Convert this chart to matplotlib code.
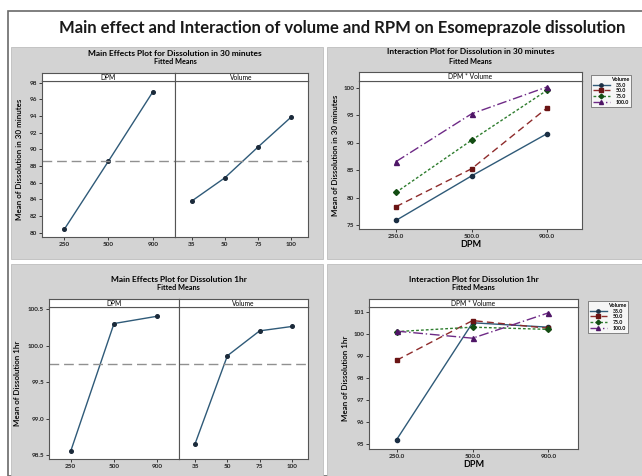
import matplotlib.pyplot as plt
from matplotlib.patches import Rectangle

plt.rcParams['font.family'] = ['Lato', 'DejaVu Sans']

W, H = 642, 476

# main effects, 30 minutes
dpm_levels = ["250", "500", "900"]
vol_levels = ["35", "50", "75", "100"]
me30_dpm = [80.4, 88.6, 96.9]
me30_vol = [83.8, 86.6, 90.3, 93.9]
mean30 = 88.63

# main effects, 1 hr
me1h_dpm = [98.555, 100.30, 100.40]
me1h_vol = [98.66, 99.86, 100.20, 100.26]
mean1h = 99.745

# interaction plots
int_dpm = ["250.0", "500.0", "900.0"]
vol_names = ["35.0", "50.0", "75.0", "100.0"]
int30_35 = [75.9, 84.0, 91.7]
int30_50 = [78.4, 85.3, 96.4]
int30_75 = [81.0, 90.5, 99.6]
int30_100 = [86.6, 95.3, 100.2]
int1h_35 = [95.2, 100.5, 100.3]
int1h_50 = [98.8, 100.6, 100.25]
int1h_75 = [100.1, 100.3, 100.2]
int1h_100 = [100.12, 99.8, 100.95]

ME_LINE = "#2f5a78"
PT = "#1b2a3a"
GREY = "#d3d3d3"
series_colors = ["#2f5a78", "#8e2b2b", "#2e7d2e", "#6e2a86"]
marker_colors = ["#1b2f44", "#6a1414", "#134d13", "#4e1566"]
series_markers = ["o", "s", "D", "^"]
series_ls = ["-", (0, (5, 3)), (0, (2, 1.5)), (0, (7, 2, 1, 2))]


def box(x0, y0, x1, y1):
    return [x0 / W, 1 - y1 / H, (x1 - x0) / W, (y1 - y0) / H]


def style(ax):
    for s in ax.spines.values():
        s.set_color("#555555")
        s.set_linewidth(0.8)
    ax.tick_params(labelsize=4.6, length=2, width=0.6, pad=1.5, colors="#222222")
    for t in ax.get_xticklabels() + ax.get_yticklabels():
        t.set_fontweight("bold")


def strip(fig, x0, x1, y0, y1, text):
    s = fig.add_axes(box(x0, y0, x1, y1))
    s.set_xticks([])
    s.set_yticks([])
    for sp in s.spines.values():
        sp.set_color("#555555")
        sp.set_linewidth(0.8)
    s.text(0.5, 0.45, text, ha="center", va="center", fontsize=4.8, transform=s.transAxes)


fig = plt.figure(figsize=(W / 100, H / 100), dpi=100)
fig.patch.set_facecolor("white")

# outer frame and grey panels (behind the axes)
fig.patches.append(Rectangle((8 / W, 0), 1, 1 - 11 / H, transform=fig.transFigure,
                             facecolor="white", edgecolor="#6a6a6a", lw=1.2, zorder=-3))
for (x0, y0, x1, y1) in [(11, 47, 323, 259), (327, 47, 642, 259),
                         (11, 264, 323, 476), (327, 264, 642, 476)]:
    fig.patches.append(Rectangle((x0 / W, 1 - y1 / H), (x1 - x0) / W, (y1 - y0) / H,
                                 transform=fig.transFigure, facecolor=GREY,
                                 edgecolor="#bdbdbd", lw=0.6, zorder=-2))

fig.text(342 / W, 1 - 28 / H,
         "Main effect and Interaction of volume and RPM on Esomeprazole dissolution",
         ha="center", va="center", fontsize=12, fontweight="bold", color="#1a1a1a")


def main_effects(x0, xm, x1, y0, y1, ys, dpm_vals, vol_vals, mean, ylim, yticks,
                 ylabels, title, ylabel):
    axl = fig.add_axes(box(x0, y0, xm, y1))
    axr = fig.add_axes(box(xm, y0, x1, y1), sharey=axl)
    axl.plot(range(len(dpm_levels)), dpm_vals, color=ME_LINE, lw=1, marker="o",
             ms=2.6, mfc=PT, mec=PT)
    axr.plot(range(len(vol_levels)), vol_vals, color=ME_LINE, lw=1, marker="o",
             ms=2.6, mfc=PT, mec=PT)
    for ax, n, labs in [(axl, 3, dpm_levels), (axr, 4, vol_levels)]:
        ax.axhline(mean, color="#909090", lw=1, ls=(0, (7, 3.5)))
        ax.set_xlim(-0.5, n - 0.5)
        ax.set_xticks(range(n))
        ax.set_xticklabels(labs)
    axl.set_ylim(*ylim)
    axl.set_yticks(yticks)
    axl.set_yticklabels(ylabels)
    axr.tick_params(axis="y", left=False, labelleft=False)
    style(axl)
    style(axr)
    axl.set_ylabel(ylabel, fontsize=5.8, labelpad=5, fontweight="semibold")
    strip(fig, x0, xm, ys, y0, "DPM")
    strip(fig, xm, x1, ys, y0, "Volume")
    cx = (x0 + x1) / 2
    fig.text(cx / W, 1 - (ys - 20) / H, title, ha="center", va="center",
             fontsize=6, fontweight="bold")
    fig.text(cx / W, 1 - (ys - 11) / H, "Fitted Means", ha="center", va="center",
             fontsize=5.2, fontweight="bold")


def interaction(x0, x1, y0, y1, ys, series, ylim, yticks, xlim, title, ylabel, legbox):
    ax = fig.add_axes(box(x0, y0, x1, y1))
    for vals, name, c, mc, m, ls in zip(series, vol_names, series_colors,
                                         marker_colors, series_markers, series_ls):
        ax.plot(range(len(int_dpm)), vals, color=c, lw=1, ls=ls, marker=m,
                ms=3 if m != "^" else 3.6, mfc=mc, mec=mc, label=name)
    ax.set_xlim(*xlim)
    ax.set_xticks(range(len(int_dpm)))
    ax.set_xticklabels(int_dpm)
    ax.set_ylim(*ylim)
    ax.set_yticks(yticks)
    style(ax)
    ax.set_ylabel(ylabel, fontsize=5.8, labelpad=3, fontweight="semibold")
    ax.set_xlabel("DPM", fontsize=6.5, labelpad=1, fontweight="bold")
    strip(fig, x0, x1, ys, y0, "DPM * Volume")
    cx = (x0 + x1) / 2
    fig.text(cx / W, 1 - (ys - 20) / H, title, ha="center", va="center",
             fontsize=6, fontweight="bold")
    fig.text(cx / W, 1 - (ys - 11) / H, "Fitted Means", ha="center", va="center",
             fontsize=5.2, fontweight="bold")
    lx0, ly0, lx1, ly1 = legbox
    leg = ax.legend(title="Volume", loc="upper left",
                    bbox_to_anchor=(lx0 / W, 1 - ly0 / H), bbox_transform=fig.transFigure,
                    fontsize=3.8, title_fontsize=3.8, frameon=True, fancybox=False,
                    handlelength=3.2, handletextpad=1.2, labelspacing=0.15,
                    borderpad=0.4, alignment="right", markerscale=0.8)
    leg.get_frame().set_edgecolor("#555555")
    leg.get_frame().set_linewidth(0.6)
    for t in leg.get_texts():
        t.set_fontweight("bold")
    leg.get_title().set_fontweight("bold")


main_effects(42, 175, 308, 81, 237, 73, me30_dpm, me30_vol, mean30,
             (79.5, 98.2), range(80, 99, 2), [str(v) for v in range(80, 99, 2)],
             "Main Effects Plot for Dissolution in 30 minutes",
             "Mean of Dissolution in 30 minutes")

main_effects(49, 179, 308, 306.7, 459, 299, me1h_dpm, me1h_vol, mean1h,
             (98.45, 100.53), [98.5, 99.0, 99.5, 100.0, 100.5],
             ["98.5", "99.0", "99.5", "100.0", "100.5"],
             "Main Effects Plot for Dissolution 1hr", "Mean of Dissolution 1hr")

interaction(359, 582, 81, 229, 72, [int30_35, int30_50, int30_75, int30_100],
            (74.33, 101.27), [75, 80, 85, 90, 95, 100], (-0.49, 2.46),
            "Interaction Plot for Dissolution in 30 minutes",
            "Mean of Dissolution in 30 minutes", (588, 72, 636, 101))

interaction(369, 578, 306.7, 449, 299, [int1h_35, int1h_50, int1h_75, int1h_100],
            (94.77, 101.23), [95, 96, 97, 98, 99, 100, 101], (-0.365, 2.39),
            "Interaction Plot for Dissolution 1hr",
            "Mean of Dissolution 1hr", (585, 298, 626, 340))

fig.savefig("out.png", dpi=100, facecolor="white")
